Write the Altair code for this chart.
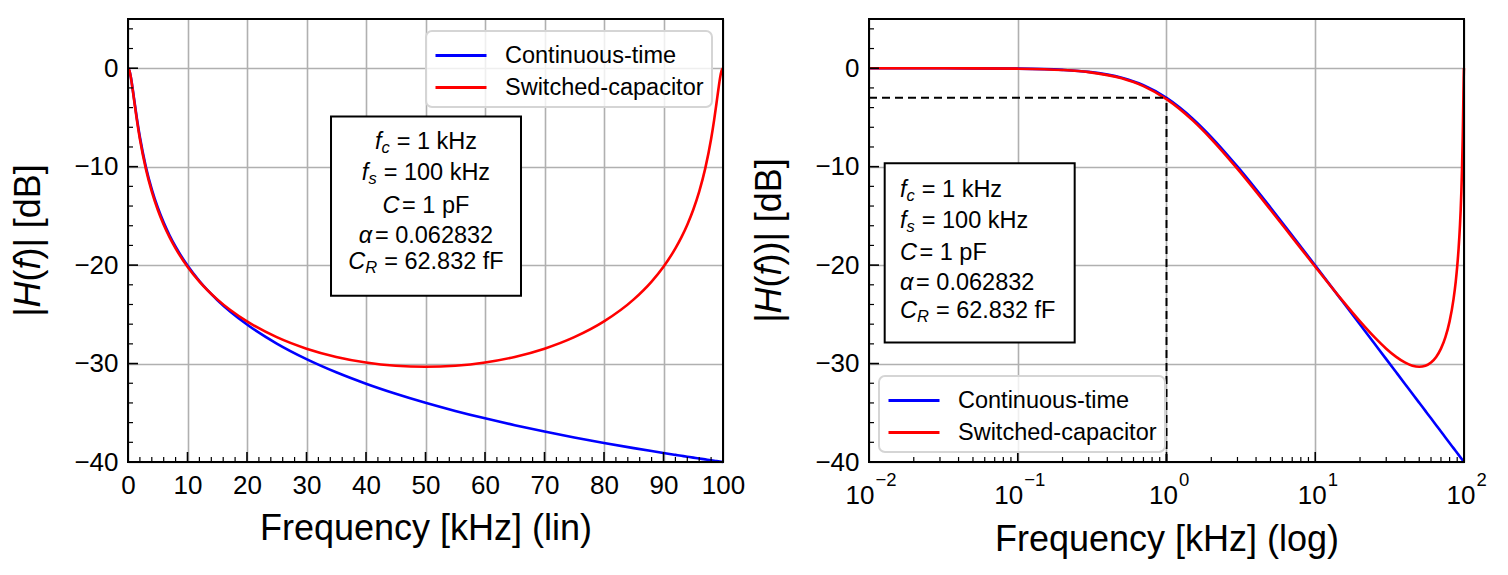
import altair as alt
import pandas as pd

FONT = "Liberation Sans"
SERIES = ["Continuous-time", "Switched-capacitor"]
COLORS = ["#0000ff", "#ff0000"]

# ---- data (|H(f)| in dB) ----
lin_freq = [0, 0.25, 0.5, 0.75, 1, 1.5, 2, 3, 4, 5, 6, 7, 8, 10, 12, 15, 20, 25, 30, 35,
            40, 45, 50, 55, 60, 65, 70, 75, 80, 85, 88, 90, 92, 93, 94, 95, 96, 97, 98,
            98.5, 99, 99.25, 99.5, 99.75, 100]
lin_ct = [0.0, -0.263, -0.969, -1.938, -3.010, -5.119, -6.990, -10.000, -12.304, -14.150,
          -15.682, -16.990, -18.129, -20.043, -21.614, -23.541, -26.031, -27.966, -29.547,
          -30.885, -32.044, -33.066, -33.981, -34.809, -35.565, -36.259, -36.903, -37.502,
          -38.063, -38.589, -38.890, -39.085, -39.276, -39.370, -39.463, -39.555, -39.646,
          -39.736, -39.825, -39.869, -39.913, -39.935, -39.957, -39.978, -40.000]
lin_sc = [0.0, -0.279, -1.023, -2.035, -3.144, -5.302, -7.198, -10.227, -12.532, -14.370,
          -15.889, -17.180, -18.299, -20.163, -21.671, -23.482, -25.717, -27.319, -28.487,
          -29.324, -29.890, -30.218, -30.325, -30.218, -29.890, -29.324, -28.487, -27.319,
          -25.717, -23.482, -21.671, -20.163, -18.299, -17.180, -15.889, -14.370, -12.532,
          -10.227, -7.198, -5.302, -3.144, -2.035, -1.023, -0.279, 0.0]

log_freq = [0.01, 0.02, 0.05, 0.1, 0.2, 0.3, 0.5, 0.7, 1, 1.5, 2, 3, 5, 7, 10, 15, 20, 25,
            30, 35, 40, 45, 50, 55, 60, 65, 70, 75, 80, 85, 88, 90, 92, 94, 95, 96, 97, 98,
            98.5, 99, 99.25, 99.5, 99.75, 100]
log_ct = [-0.0004, -0.0017, -0.0108, -0.0432, -0.1703, -0.3743, -0.969, -1.732, -3.010,
          -5.119, -6.990, -10.000, -14.150, -16.990, -20.043, -23.541, -26.031, -27.966,
          -29.547, -30.885, -32.044, -33.066, -33.981, -34.809, -35.565, -36.259, -36.903,
          -37.502, -38.063, -38.589, -38.890, -39.085, -39.276, -39.463, -39.555, -39.646,
          -39.736, -39.825, -39.869, -39.913, -39.935, -39.957, -39.978, -40.000]
log_sc = [-0.0005, -0.0018, -0.0115, -0.0459, -0.1810, -0.3969, -1.023, -1.821, -3.144,
          -5.302, -7.198, -10.227, -14.370, -17.180, -20.163, -23.482, -25.717, -27.319,
          -28.487, -29.324, -29.890, -30.218, -30.325, -30.218, -29.890, -29.324, -28.487,
          -27.319, -25.717, -23.482, -21.671, -20.163, -18.299, -15.889, -14.370, -12.532,
          -10.227, -7.198, -5.302, -3.144, -2.035, -1.023, -0.279, 0.0]

cutoff_f = 1.0
cutoff_db = -3.01

param_lines = [("f", "c", "= 1 kHz"), ("f", "s", "= 100 kHz"), ("C", "", "= 1 pF"),
               ("\u03b1", "", "= 0.062832"), ("C", "R", "= 62.832 fF")]
left_ytitle = [("|", False), ("H", True), ("(", False), ("f", True), (")| [dB]", False)]
right_ytitle = [("|", False), ("H", True), ("(", False), ("f", True), ("))| [dB]", False)]

y_major = [-40, -30, -20, -10, 0]
y_minor = [v for v in range(-38, 5, 2) if v % 10 != 0]
lin_major = list(range(10, 100, 10))
lin_minor = [v for v in range(2, 100, 2) if v % 10 != 0]
log_major = [0.01, 0.1, 1, 10, 100]
log_minor = [m * 10.0 ** e for e in range(-2, 2) for m in range(2, 10)]
exp_labels = ["\u22122", "\u22121", "0", "1", "2"]

# ---- layout / style ----
W, H = 595, 443
Y_DOM = [-40, 5]
ONE = pd.DataFrame({"k": [0]})
BOX_FS, SUB_FS = 23.5, 16.5
TITLE_FS = 36
CHAR_W = {" ": 278, ".": 278, "=": 584, "k": 500, "H": 722, "z": 500, "p": 556, "F": 611,
          "f": 278, "c": 500, "s": 500, "C": 722, "R": 722, "\u03b1": 578, "|": 260,
          "(": 333, ")": 333, "[": 278, "]": 278, "d": 556, "B": 667}
for d in "0123456789":
    CHAR_W[d] = 556


def text_w(s, size):
    return sum(CHAR_W.get(ch, 556) for ch in s) * size / 1000.0


def make_y_axis():
    return alt.Axis(values=y_major, title=None, grid=True, ticks=False, domain=False,
                    labelPadding=10, labelFontSize=26, labelFlush=False,
                    gridColor="#b0b0b0", gridWidth=1.6, labelColor="black", labelFont=FONT)


def legend(orient, offset):
    return alt.Legend(orient=orient, offset=offset, title=None, labelFontSize=23.5,
                      labelFont=FONT, labelColor="black", symbolType="M-1,0H2.4",
                      symbolStrokeWidth=3, symbolSize=900, labelOffset=38, padding=8,
                      rowPadding=4, strokeColor="#d5d5d5", fillColor="rgba(255,255,255,0.8)",
                      cornerRadius=6, labelLimit=400)


class Panel:
    def __init__(self, xscale, xaxis, yaxis):
        self.xscale, self.xaxis, self.yaxis = xscale, xaxis, yaxis
        self.yscale = alt.Scale(domain=Y_DOM, nice=False, zero=False)

    def xd(self, v):
        return alt.XDatum(v, scale=self.xscale, axis=self.xaxis)

    def yd(self, v):
        return alt.YDatum(v, scale=self.yscale, axis=self.yaxis)

    def curves(self, freq, ct, sc, leg):
        n = len(freq)
        df = pd.DataFrame({"f": list(freq) * 2, "db": list(ct) + list(sc),
                           "series": [SERIES[0]] * n + [SERIES[1]] * n})
        return alt.Chart(df).mark_line(strokeWidth=2.6, interpolate="monotone").encode(
            x=alt.X("f:Q", scale=self.xscale, axis=self.xaxis),
            y=alt.Y("db:Q", scale=self.yscale, axis=self.yaxis),
            color=alt.Color("series:N", scale=alt.Scale(domain=SERIES, range=COLORS),
                            legend=leg),
        )

    def ticks_y(self, values, length, sw):
        return alt.Chart(pd.DataFrame({"v": values})).mark_rule(
            color="black", strokeWidth=sw).encode(
            y=alt.Y("v:Q", scale=self.yscale, axis=self.yaxis),
            x=alt.value(0), x2=alt.value(length))

    def ticks_x(self, values, length, sw):
        return alt.Chart(pd.DataFrame({"v": values})).mark_rule(
            color="black", strokeWidth=sw).encode(
            x=alt.X("v:Q", scale=self.xscale, axis=self.xaxis),
            y=alt.value(H), y2=alt.value(H - length))

    def box(self, x0, x1, y0, y1):
        return alt.Chart(ONE).mark_rect(fill="white", stroke="black", strokeWidth=2).encode(
            x=self.xd(x0), x2=alt.X2Datum(x1), y=self.yd(y0), y2=alt.Y2Datum(y1))

    def param_line(self, x, y, sym, sub, rest, centered):
        w_sym = text_w(sym, BOX_FS)
        w_sub = text_w(sub, SUB_FS) if sub else 0
        gap = 7 if sub else 2.5
        w_rest = text_w(rest, BOX_FS)
        total = w_sym + w_sub + gap + w_rest
        start = -total / 2 if centered else 0
        items = [(sym, BOX_FS, "italic", start, 0)]
        if sub:
            items.append((sub, SUB_FS, "italic", start + w_sym, 6))
        items.append((rest, BOX_FS, "normal", start + w_sym + w_sub + gap, 0))
        out = []
        for text, fs, style, dx, dy in items:
            out.append(alt.Chart(ONE).mark_text(
                text=text, font=FONT, fontSize=fs, fontStyle=style, align="left",
                baseline="middle", dx=dx, dy=dy, color="black").encode(
                x=self.xd(x), y=self.yd(y)))
        return out


def y_title(pieces, offset):
    total = sum(text_w(t, TITLE_FS) for t, _ in pieces)
    cursor = -total / 2
    out = []
    for t, italic in pieces:
        out.append(alt.Chart(ONE).mark_text(
            text=t, font=FONT, fontSize=TITLE_FS, fontStyle="italic" if italic else "normal",
            angle=270, align="left", baseline="bottom", dx=cursor, color="black").encode(
            x=alt.value(-offset), y=alt.value(H / 2)))
        cursor += text_w(t, TITLE_FS)
    return out


def frame():
    return alt.Chart(ONE).mark_rect(fillOpacity=0, stroke="black", strokeWidth=2).encode(
        x=alt.value(0), x2=alt.value(W), y=alt.value(0), y2=alt.value(H))


# ---- left panel (linear) ----
lin_scale = alt.Scale(domain=[0, 100], nice=False, zero=False)
lin_axis = alt.Axis(values=list(range(0, 101, 10)), title="Frequency [kHz] (lin)", grid=True,
                    ticks=False, domain=False, labelPadding=10, labelFontSize=26,
                    labelFlush=False, titleFontSize=TITLE_FS, titlePadding=13,
                    titleFontWeight="normal", gridColor="#b0b0b0", gridWidth=1.6,
                    labelColor="black", titleColor="black", labelFont=FONT, titleFont=FONT)
L = Panel(lin_scale, lin_axis, make_y_axis())

left_layers = [L.curves(lin_freq, lin_ct, lin_sc, legend("top-right", 11.5)),
               L.box(34.12, 66.05, -4.91, -23.10)]
left_y = [-7.47, -10.65, -13.99, -17.08, -19.72]
for (sym, sub, rest), yy in zip(param_lines, left_y):
    left_layers += L.param_line(50.08, yy, sym, sub, rest, True)
left_layers += [L.ticks_y(y_major, 10, 1.6), L.ticks_y(y_minor, 5, 1.2),
                L.ticks_x(lin_major, 10, 1.6), L.ticks_x(lin_minor, 5, 1.2), frame()]
left_layers += y_title(left_ytitle, 80)
left = alt.layer(*left_layers).properties(width=W, height=H)

# ---- right panel (log) ----
log_scale = alt.Scale(type="log", domain=[0.01, 100], nice=False)
log_axis = alt.Axis(values=log_major, title="Frequency [kHz] (log)", grid=True, ticks=False,
                    domain=False, labels=False, titleFontSize=TITLE_FS, titlePadding=60,
                    titleFontWeight="normal", gridColor="#b0b0b0", gridWidth=1.6,
                    titleColor="black", titleFont=FONT)
R = Panel(log_scale, log_axis, make_y_axis())

right_layers = [R.curves(log_freq, log_ct, log_sc, legend("bottom-left", 10)),
                R.box(0.01275, 0.2414, -9.65, -27.85)]
right_y = [-12.35, -15.56, -18.78, -21.83, -24.62]
for (sym, sub, rest), yy in zip(param_lines, right_y):
    right_layers += R.param_line(0.01616, yy, sym, sub, rest, False)

dash = [8, 5]
right_layers.append(alt.Chart(ONE).mark_rule(color="black", strokeWidth=2, strokeDash=dash).encode(
    x=R.xd(0.01), x2=alt.X2Datum(cutoff_f), y=R.yd(cutoff_db)))
right_layers.append(alt.Chart(ONE).mark_rule(color="black", strokeWidth=2, strokeDash=dash).encode(
    x=R.xd(cutoff_f), y=R.yd(-40), y2=alt.Y2Datum(cutoff_db)))

for v, e in zip(log_major, exp_labels):
    two = len(e) > 1
    right_layers.append(alt.Chart(ONE).mark_text(
        text="10", font=FONT, fontSize=26, align="right", baseline="middle",
        dx=5.5 if two else 11.5, color="black").encode(
        x=R.xd(v), y=alt.value(H + 34.4)))
    right_layers.append(alt.Chart(ONE).mark_text(
        text=e, font=FONT, fontSize=18.5, align="left", baseline="middle",
        dx=6.5 if two else 12.5, color="black").encode(
        x=R.xd(v), y=alt.value(H + 17.5)))

right_layers += [R.ticks_y(y_major, 10, 1.6), R.ticks_y(y_minor, 5, 1.2),
                 R.ticks_x(log_major[1:-1], 10, 1.6), R.ticks_x(log_minor, 5, 1.2), frame()]
right_layers += y_title(right_ytitle, 80)
right = alt.layer(*right_layers).properties(width=W, height=H)

chart = alt.hconcat(left, right, spacing=7).resolve_scale(
    x="independent", y="independent", color="independent").resolve_legend(
    color="independent").properties(
    padding={"left": 3, "top": 10, "right": 5, "bottom": 5}).configure(
    font=FONT).configure_view(stroke=None).configure_legend(strokeWidth=2)

chart.save("out.html", embed_options={"renderer": "svg", "actions": False})
